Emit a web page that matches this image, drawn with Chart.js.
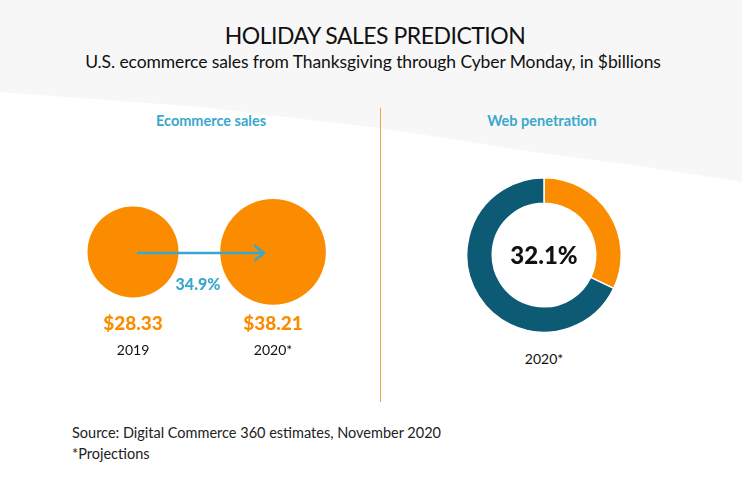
<!DOCTYPE html>
<html>
<head>
<meta charset="utf-8">
<script src="https://cdn.jsdelivr.net/npm/chart.js@4/dist/chart.umd.min.js"></script>
<style>
  html, body { margin: 0; padding: 0; }
  body { width: 742px; height: 478px; position: relative; overflow: hidden; background: #fff; font-family: Lato, "Open Sans", sans-serif; }
  #bg { position: absolute; left: 0; top: 0; width: 742px; height: 478px; background: #f7f7f7;
        clip-path: polygon(0 0, 742px 0, 742px 182px, 640px 166px, 540px 153px, 380px 128px, 200px 107px, 0 92px); }
  .t { position: absolute; white-space: nowrap; }
  #title { left: 4px; width: 742px; top: 21px; text-align: center; font-size: 23px; letter-spacing: -0.5px; color: #111; }
  #subtitle { left: 2px; width: 742px; top: 51px; text-align: center; font-size: 17.5px; letter-spacing: -0.1px; color: #111; }
  .head { top: 112px; width: 300px; text-align: center; font-size: 14.5px; font-weight: bold; color: #3aa8cd; }
  #divider { position: absolute; left: 380px; top: 108px; width: 1px; height: 294px; background: #f2a04d; }
  #source { left: 72px; top: 422px; font-size: 14.5px; color: #222; line-height: 21px; }
  canvas { position: absolute; }
</style>
</head>
<body>
<div id="bg"></div>
<div class="t" id="title">HOLIDAY SALES PREDICTION</div>
<div class="t" id="subtitle">U.S. ecommerce sales from Thanksgiving through Cyber Monday, in $billions</div>
<div class="t head" style="left:61px">Ecommerce sales</div>
<div class="t head" style="left:392px">Web penetration</div>
<div id="divider"></div>
<div class="t" id="source">Source: Digital Commerce 360 estimates, November 2020<br>*Projections</div>

<div style="position:absolute;left:0;top:150px;width:380px;height:230px"><canvas id="sales"></canvas></div>
<div style="position:absolute;left:466px;top:177px;width:156px;height:156px"><canvas id="web"></canvas></div>
<div class="t" style="left:444px;width:200px;top:350px;text-align:center;font-size:14px;color:#111">2020*</div>

<script>
const years = ["2019", "2020*"];
const sales = [28.33, 38.21];
const salesLabels = ["$28.33", "$38.21"];
const growth = "34.9%";

const webLabels = ["Web", "Other"];
const webShare = [32.1, 67.9];
const webText = "32.1%";

const orange = "#fb8c00";
const teal = "#0d5a75";
const blue = "#3aa8cd";

// bubble radius proportional to sqrt of the value (area-proportional)
const radiusScale = 45.5 / Math.sqrt(sales[0]);

const salesDecor = {
  id: "salesDecor",
  afterDatasetsDraw(chart) {
    const {ctx, scales: {x, y}} = chart;
    const x0 = x.getPixelForValue(0), x1 = x.getPixelForValue(1);
    const yc = y.getPixelForValue(0.5);
    ctx.save();
    // arrow from first bubble to the second
    ctx.strokeStyle = blue;
    ctx.lineWidth = 2.5;
    ctx.lineCap = "round";
    ctx.lineJoin = "round";
    ctx.beginPath();
    ctx.moveTo(x0 + 5, yc + 1);
    ctx.lineTo(x1 - 9, yc + 1);
    ctx.moveTo(x1 - 18, yc - 6);
    ctx.lineTo(x1 - 9, yc + 1);
    ctx.lineTo(x1 - 18, yc + 8);
    ctx.stroke();
    ctx.textAlign = "center";
    ctx.textBaseline = "middle";
    ctx.fillStyle = blue;
    ctx.font = "900 16px Lato";
    ctx.fillText(growth, x0 + 65, yc + 33);
    sales.forEach((v, i) => {
      const px = x.getPixelForValue(i);
      ctx.fillStyle = orange;
      ctx.font = "900 19px Lato";
      ctx.fillText(salesLabels[i], px, yc + 72);
      ctx.fillStyle = "#111";
      ctx.font = "14px Lato";
      ctx.fillText(years[i], px, yc + 99);
    });
    ctx.restore();
  }
};

new Chart(document.getElementById("sales"), {
  type: "bubble",
  data: {
    datasets: [{
      data: sales.map((v, i) => ({x: i, y: 0.5, r: radiusScale * Math.sqrt(v)})),
      backgroundColor: orange,
      borderWidth: 0,
      hoverRadius: 0,
      clip: false
    }]
  },
  options: {
    responsive: true,
    maintainAspectRatio: false,
    animation: false,
    layout: {padding: 0, autoPadding: false},
    plugins: {legend: {display: false}, tooltip: {enabled: false}},
    scales: {
      x: {type: "linear", display: false, min: -0.95, max: 1.764},
      y: {type: "linear", display: false, min: 0, max: 0.898}
    }
  },
  plugins: [salesDecor]
});

const webCenter = {
  id: "webCenter",
  afterDraw(chart) {
    const {ctx, chartArea} = chart;
    ctx.save();
    ctx.fillStyle = "#111";
    ctx.font = "900 24px Lato";
    ctx.textAlign = "center";
    ctx.textBaseline = "middle";
    ctx.fillText(webText, (chartArea.left + chartArea.right) / 2, (chartArea.top + chartArea.bottom) / 2 + 1);
    ctx.restore();
  }
};

new Chart(document.getElementById("web"), {
  type: "doughnut",
  data: {
    labels: webLabels,
    datasets: [{
      data: webShare,
      backgroundColor: [orange, teal],
      borderColor: "#fff",
      borderWidth: 1.5
    }]
  },
  options: {
    responsive: true,
    maintainAspectRatio: false,
    animation: false,
    cutout: "67%",
    layout: {padding: 0},
    plugins: {legend: {display: false}, tooltip: {enabled: false}}
  },
  plugins: [webCenter]
});
</script>
</body>
</html>
